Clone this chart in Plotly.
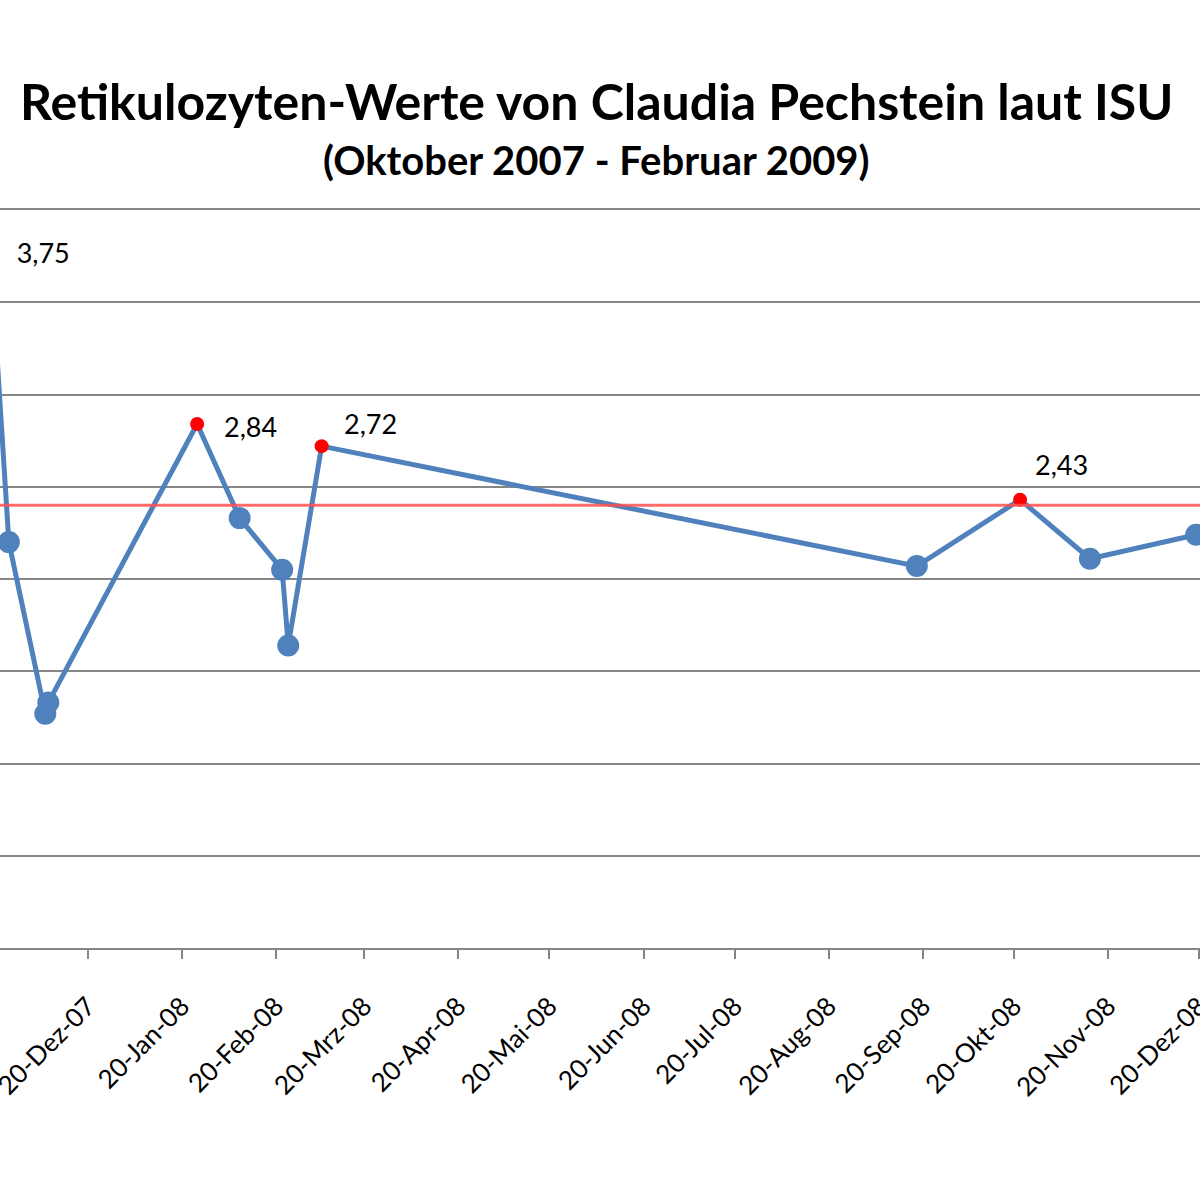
import plotly.graph_objects as go

# ---- data ----
dates = ["2007-11-18", "2007-11-24", "2007-12-06", "2007-12-07", "2008-01-25",
         "2008-02-08", "2008-02-22", "2008-02-24", "2008-03-06", "2008-09-18",
         "2008-10-22", "2008-11-14", "2008-12-19"]
values = [3.75, 2.20, 1.27, 1.33, 2.84, 2.33, 2.05, 1.64, 2.72, 2.07, 2.43, 2.11, 2.24]
threshold = 2.4

month_names = ["Nov", "Dez", "Jan", "Feb", "Mrz", "Apr", "Mai", "Jun", "Jul",
               "Aug", "Sep", "Okt", "Nov", "Dez"]
tick_dates = ["2007-11-20", "2007-12-20", "2008-01-20", "2008-02-20", "2008-03-20",
              "2008-04-20", "2008-05-20", "2008-06-20", "2008-07-20", "2008-08-20",
              "2008-09-20", "2008-10-20", "2008-11-20", "2008-12-20"]
tick_text = ["20-" + m + "-" + d[2:4] for m, d in zip(month_names, tick_dates)]

title = "Retikulozyten-Werte von Claudia Pechstein laut ISU"
subtitle = "(Oktober 2007 - Februar 2009)"

BLUE = "#4F81BD"
LABEL_FONT = dict(family="Lato", size=27, color="#000000")

def fmt(v):
    return f"{v:.2f}".replace(".", ",")

hi_x = [d for d, v in zip(dates, values) if v > threshold]
hi_y = [v for v in values if v > threshold]
lo_x = [d for d, v in zip(dates, values) if v <= threshold]
lo_y = [v for v in values if v <= threshold]

fig = go.Figure()
fig.add_trace(go.Scatter(x=dates, y=values, mode="lines",
                         line=dict(color=BLUE, width=5), hoverinfo="skip"))
fig.add_trace(go.Scatter(x=lo_x, y=lo_y, mode="markers",
                         marker=dict(color=BLUE, size=22)))
fig.add_shape(type="line", xref="paper", x0=0, x1=1, yref="y", y0=threshold, y1=threshold,
              line=dict(color="rgba(255,80,80,0.85)", width=3), layer="above")
fig.add_trace(go.Scatter(x=hi_x, y=hi_y, mode="markers",
                         marker=dict(color="#FF0000", size=14)))

# label of the first (off-range) value as trace text, so it is still drawn
fig.add_trace(go.Scatter(x=[dates[0]], y=[values[0]], mode="markers+text",
                         text=[fmt(values[0])], textposition="middle right",
                         textfont=LABEL_FONT,
                         marker=dict(size=40, opacity=0), hoverinfo="skip"))

# labels of the other highlighted values (pixel offsets)
label_shift = {4: (53, -2), 8: (49, 23), 10: (41, 35)}
for i, (dx, dy) in label_shift.items():
    fig.add_annotation(x=dates[i], y=values[i], xref="x", yref="y",
                       text=fmt(values[i]), showarrow=False,
                       xshift=dx, yshift=dy, xanchor="center", yanchor="middle",
                       font=LABEL_FONT)

fig.add_annotation(x=0.497, y=1.148, xref="paper", yref="paper", text=f"<b>{title}</b>",
                   showarrow=False, xanchor="center", yanchor="middle",
                   font=dict(family="Lato", size=50, color="#000000"))
fig.add_annotation(x=0.497, y=1.068, xref="paper", yref="paper", text=f"<b>{subtitle}</b>",
                   showarrow=False, xanchor="center", yanchor="middle",
                   font=dict(family="Lato", size=40, color="#000000"))

fig.update_layout(
    width=1200, height=1200,
    margin=dict(l=0, r=0, t=210, b=252, autoexpand=False),
    paper_bgcolor="white", plot_bgcolor="white",
    showlegend=False,
    xaxis=dict(type="date", range=["2007-11-21 02:00", "2008-12-20 06:00"],
               tickmode="array", tickvals=tick_dates, ticktext=tick_text,
               tickangle=-45, ticks="outside", ticklen=9, tickcolor="#868686", tickwidth=1.5,
               showline=True, mirror=True, linecolor="#868686", linewidth=1.5,
               showgrid=False, zeroline=False, ticklabelstandoff=22,
               ticklabeloverflow="allow", automargin=False,
               tickfont=dict(family="Lato", size=26, color="#000000")),
    yaxis=dict(range=[0, 4], dtick=0.5, showgrid=True, gridcolor="#868686", gridwidth=1.5,
               zeroline=False, showticklabels=False, showline=False, automargin=False),
)

fig.write_html("out.html")
